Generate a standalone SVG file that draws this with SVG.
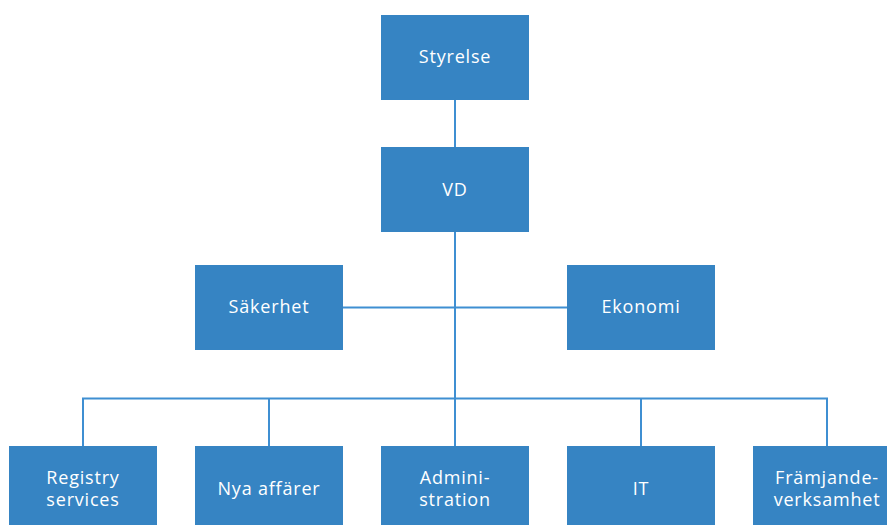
<svg xmlns="http://www.w3.org/2000/svg" width="887" height="525" viewBox="0 0 887 525">
<style>
.box{fill:#3684c3}
.t{fill:#ffffff;font-family:"Open Sans","Liberation Sans",sans-serif;font-size:18px;letter-spacing:0.8px;text-anchor:middle;dominant-baseline:central}
.c{stroke:#3f8fd2;stroke-width:2;fill:none}
</style>
<rect width="887" height="525" fill="#ffffff"/>
<g id="connectors">
<path class="c" d="M455 100V398M343 307.5H567M83 446V398.5H827V446M269 398.5V446M641 398.5V446M455 398V446"/>
</g>
<g id="styrelse"><rect class="box" x="381" y="15" width="148" height="85"/><text class="t" x="455" y="56">Styrelse</text></g>
<g id="vd"><rect class="box" x="381" y="147" width="148" height="85"/><text class="t" x="455" y="189">VD</text></g>
<g id="sakerhet"><rect class="box" x="195" y="265" width="148" height="85"/><text class="t" x="269" y="306">Säkerhet</text></g>
<g id="ekonomi"><rect class="box" x="567" y="265" width="148" height="85"/><text class="t" x="641" y="306">Ekonomi</text></g>
<g id="registry"><rect class="box" x="9" y="446" width="148" height="85"/><text class="t" x="83" y="477">Registry</text><text class="t" x="83" y="499">services</text></g>
<g id="nya"><rect class="box" x="195" y="446" width="148" height="85"/><text class="t" x="269" y="488">Nya affärer</text></g>
<g id="admin"><rect class="box" x="381" y="446" width="148" height="85"/><text class="t" x="455" y="477">Admini-</text><text class="t" x="455" y="499">stration</text></g>
<g id="it"><rect class="box" x="567" y="446" width="148" height="85"/><text class="t" x="641" y="488">IT</text></g>
<g id="framjande"><rect class="box" x="753" y="446" width="148" height="85"/><text class="t" x="827" y="477">Främjande-</text><text class="t" x="827" y="499">verksamhet</text></g>
</svg>
